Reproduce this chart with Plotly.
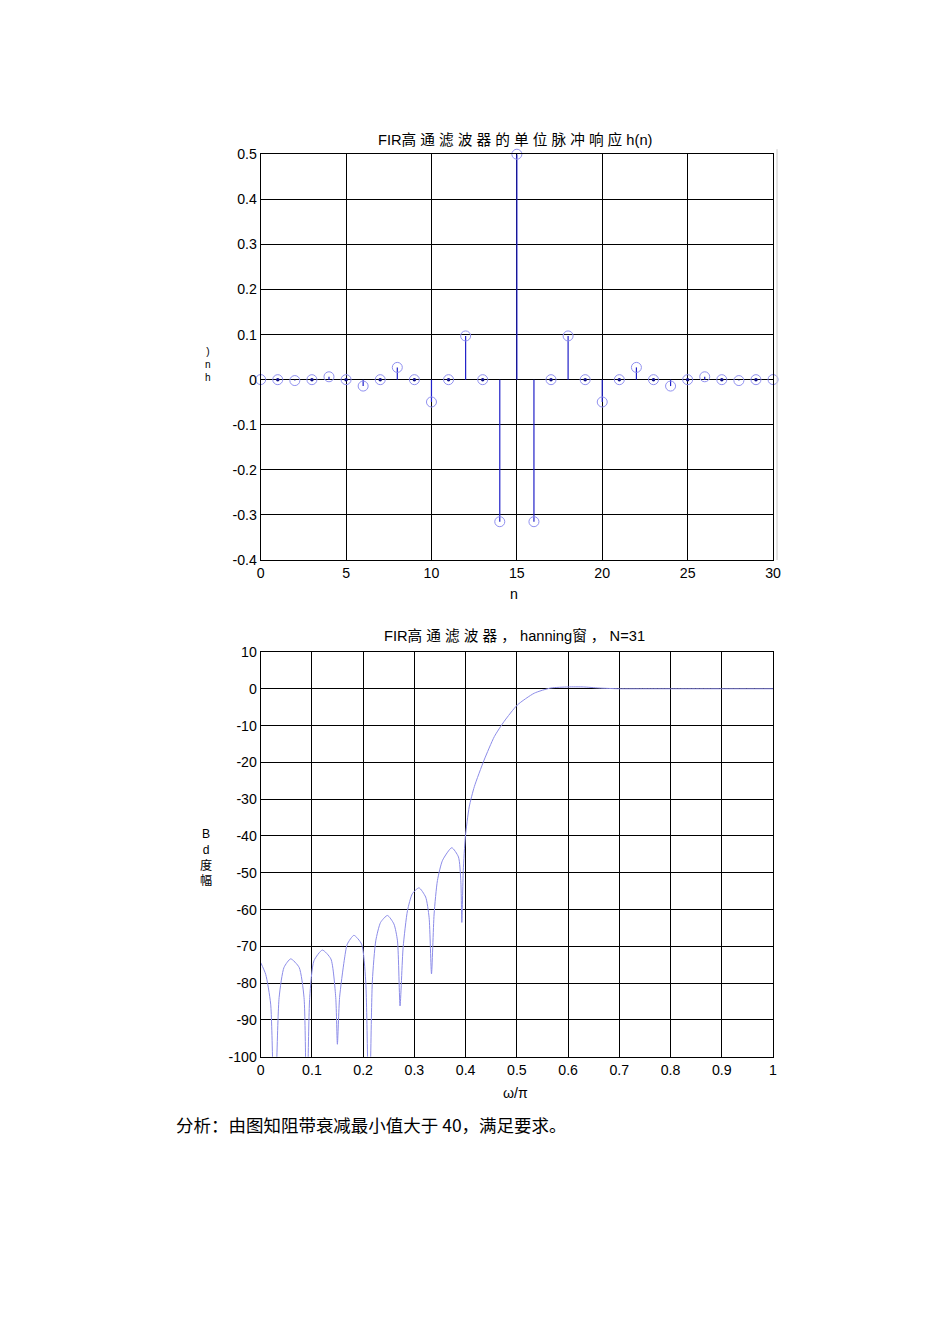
import plotly.graph_objects as go

# ---------------- data ----------------
n_vals = list(range(31))
h_vals = [0.0002, 0.0, -0.002, 0.0, 0.0064, 0.0, -0.0142, 0.0, 0.0272, 0.0, -0.0495,
          0.0, 0.097, 0.0, -0.315, 0.5, -0.315, 0.0, 0.097, 0.0, -0.0495, 0.0,
          0.0272, 0.0, -0.0142, 0.0, 0.0064, 0.0, -0.002, 0.0, 0.0002]

w_vals = [0.0, 0.0098, 0.0195, 0.027, 0.036, 0.0456, 0.0586, 0.075, 0.0846, 0.0898,
          0.0957, 0.104, 0.1204, 0.137, 0.1465, 0.1497, 0.154, 0.163, 0.169, 0.182,
          0.197, 0.205, 0.2116, 0.218, 0.2246, 0.234, 0.2474, 0.260, 0.267, 0.272,
          0.278, 0.2865, 0.296, 0.309, 0.322, 0.3287, 0.3334, 0.3385, 0.345, 0.355,
          0.373, 0.386, 0.3906, 0.3926, 0.3954, 0.3994, 0.407, 0.417, 0.436, 0.456,
          0.475, 0.501, 0.534, 0.566, 0.600, 0.630, 0.660, 0.700, 0.750, 0.800,
          0.900, 1.0]
db_vals = [-74.4, -77.6, -85.7, -120, -83.9, -75.7, -73.4, -75.7, -83.9, -120,
           -83.9, -73.9, -71.0, -73.4, -83.9, -96.6, -83.9, -73.9, -69.4, -67.0,
           -69.4, -79.4, -120, -79.4, -68.5, -63.5, -61.6, -63.9, -68.5, -86.2,
           -70.3, -60.3, -55.7, -54.1, -56.6, -62.1, -77.5, -61.2, -52.1, -46.6,
           -43.2, -45.7, -52.1, -63.5, -49.4, -40.3, -32.1, -26.6, -19.4, -13.0,
           -8.9, -4.4, -1.2, 0.2, 0.5, 0.5, 0.2, 0.0, 0.0, 0.0,
           0.0, 0.0]

x1_ticks = [0, 5, 10, 15, 20, 25, 30]
y1_ticks = [-0.4, -0.3, -0.2, -0.1, 0, 0.1, 0.2, 0.3, 0.4, 0.5]
y1_labels = ["-0.4", "-0.3", "-0.2", "-0.1", "0", "0.1", "0.2", "0.3", "0.4", "0.5"]
x2_ticks = [0, 0.1, 0.2, 0.3, 0.4, 0.5, 0.6, 0.7, 0.8, 0.9, 1]
x2_labels = ["0", "0.1", "0.2", "0.3", "0.4", "0.5", "0.6", "0.7", "0.8", "0.9", "1"]
y2_ticks = [-100, -90, -80, -70, -60, -50, -40, -30, -20, -10, 0, 10]
y2_labels = ["-100", "-90", "-80", "-70", "-60", "-50", "-40", "-30", "-20", "-10", "0", "10"]

title1 = "FIR高 通 滤 波 器 的 单 位 脉 冲 响 应 h(n)"
title2 = "FIR高 通 滤 波 器 ， hanning窗 ， N=31"
note = "分析：由图知阻带衰减最小值大于 40，满足要求。"
ylabel1 = ")<br>n<br>h"
ylabel2 = "B<br>d<br>度<br>幅"

# ---------------- figure ----------------
W, H = 950, 1344
S, OX, OY = 0.9886, 3.0, 6.7   # compensation for how the page is photographed
FONT = "Liberation Sans, Arial, Noto Sans CJK SC, sans-serif"


def px(x):
    return ((x - OX) / S) / W


def py(y):
    return 1 - ((y - OY) / S) / H


def fs(size):
    return size / S


fig = go.Figure()

# stems
sx, sy = [], []
for n, h in zip(n_vals, h_vals):
    sx += [n, n, None]
    sy += [0, h, None]
fig.add_trace(go.Scatter(x=sx, y=sy, mode="lines", line=dict(color="#2020c8", width=1.2),
                         xaxis="x", yaxis="y", showlegend=False, hoverinfo="skip"))
fig.add_trace(go.Scatter(x=n_vals, y=h_vals, mode="markers",
                         marker=dict(symbol="circle-open", size=10, color="#9090f0",
                                     line=dict(width=1, color="#9090f0")),
                         cliponaxis=False, xaxis="x", yaxis="y", showlegend=False))
zx = [n for n, h in zip(n_vals, h_vals) if h == 0]
zy = [0 for n, h in zip(n_vals, h_vals) if h == 0]
fig.add_trace(go.Scatter(x=zx, y=zy, mode="markers",
                         marker=dict(symbol="circle", size=3.5, color="#10108a"),
                         xaxis="x", yaxis="y", showlegend=False))

# magnitude response
fig.add_trace(go.Scatter(x=w_vals, y=db_vals, mode="lines",
                         line=dict(color="#8c8ce8", width=1, shape="spline", smoothing=0.6),
                         xaxis="x2", yaxis="y2", showlegend=False))

axis_common = dict(showgrid=True, gridcolor="black", gridwidth=1, showline=True,
                   linecolor="black", linewidth=1, mirror=True, zeroline=False,
                   ticks="", tickfont=dict(family=FONT, size=fs(14), color="black"))

fig.update_layout(
    width=W, height=H, margin=dict(l=0, r=0, t=0, b=0),
    paper_bgcolor="white", plot_bgcolor="white",
    xaxis=dict(domain=[px(260), px(773)], range=[0, 30], tickvals=x1_ticks,
               anchor="y", **axis_common),
    yaxis=dict(domain=[py(559), py(153)], range=[-0.4, 0.5], tickvals=y1_ticks,
               ticktext=y1_labels, anchor="x", **axis_common),
    xaxis2=dict(domain=[px(260), px(773)], range=[0, 1], tickvals=x2_ticks,
                ticktext=x2_labels, anchor="y2", **axis_common),
    yaxis2=dict(domain=[py(1056), py(651)], range=[-100, 10], tickvals=y2_ticks,
                ticktext=y2_labels, anchor="x2", **axis_common),
)

ann_font = dict(family=FONT, size=fs(14), color="black")
title_font = dict(family=FONT, size=fs(14.5), color="black")
fig.add_annotation(x=px(515), y=py(138), xref="paper", yref="paper", text=title1,
                   showarrow=False, font=title_font, xanchor="center", yanchor="middle")
fig.add_annotation(x=px(514), y=py(593), xref="paper", yref="paper", text="n",
                   showarrow=False, font=ann_font, xanchor="center", yanchor="middle")
fig.add_annotation(x=px(207), y=py(363), xref="paper", yref="paper", text=ylabel1,
                   showarrow=False, font=dict(family=FONT, size=fs(10), color="black"),
                   xanchor="center", yanchor="middle")
fig.add_annotation(x=px(514), y=py(635), xref="paper", yref="paper", text=title2,
                   showarrow=False, font=title_font, xanchor="center", yanchor="middle")
fig.add_annotation(x=px(515), y=py(1092), xref="paper", yref="paper", text="ω/π",
                   showarrow=False, font=ann_font, xanchor="center", yanchor="middle")
fig.add_annotation(x=px(205), y=py(857), xref="paper", yref="paper", text=ylabel2,
                   showarrow=False, font=dict(family=FONT, size=fs(12), color="black"),
                   xanchor="center", yanchor="middle")
fig.add_annotation(x=px(173), y=py(1124), xref="paper", yref="paper", text=note,
                   showarrow=False,
                   font=dict(family="Noto Sans CJK SC, sans-serif", size=fs(17.3),
                             color="black"),
                   xanchor="left", yanchor="middle")

# faint line right of top plot
fig.add_shape(type="line", xref="paper", yref="paper", x0=px(777), x1=px(777),
              y0=py(559), y1=py(148), line=dict(color="#c8c8c8", width=1))

fig.write_html("out.html")
